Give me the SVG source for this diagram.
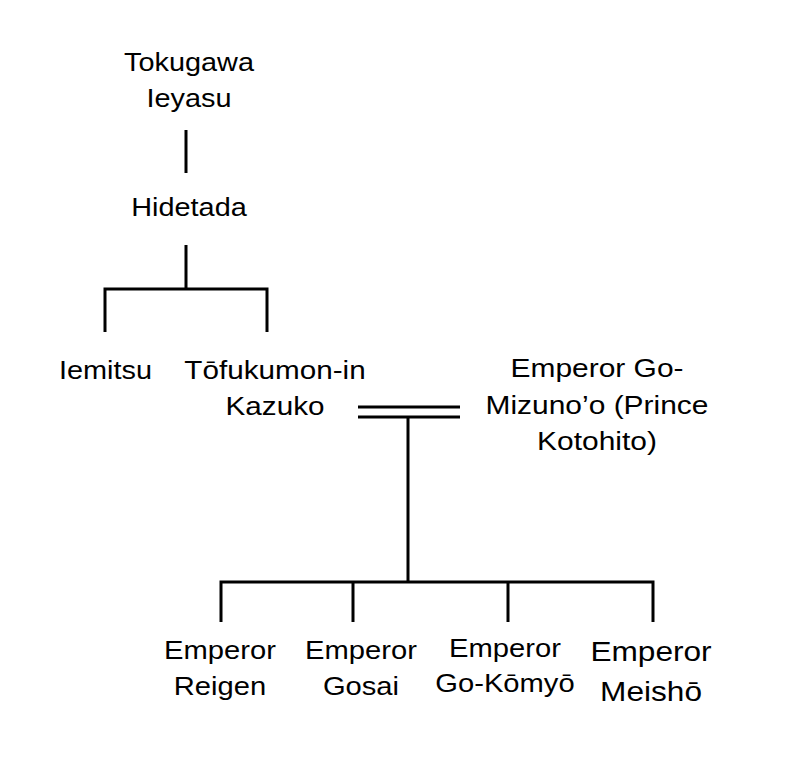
<svg xmlns="http://www.w3.org/2000/svg" width="798" height="784" viewBox="0 0 798 784">
<style>
text{font-family:"Liberation Sans",Arial,sans-serif;font-size:26.5px;fill:#000;text-anchor:middle}
.big{font-size:28px}
.ln{stroke:#000;stroke-width:3;fill:none}
</style>
<rect width="798" height="784" fill="#fff"/>
<g id="connectors">
<path class="ln" d="M186,130V173"/>
<path class="ln" d="M186,245V289M105,332V289H267V332"/>
<path class="ln" d="M358,407H460M358,417H460"/>
<path class="ln" d="M408,417V582M221,622V582H653V622M353,582V622M508,582V622"/>
</g>
<g id="ieyasu" transform="matrix(1.09 0 0 1 -17 0)"><text x="189" y="71">Tokugawa</text><text x="189" y="107">Ieyasu</text></g>
<g id="hidetada" transform="matrix(1.09 0 0 1 -17 0)"><text x="189" y="216">Hidetada</text></g>
<g id="iemitsu" transform="matrix(1.09 0 0 1 -9.5 0)"><text x="105.5" y="379">Iemitsu</text></g>
<g id="kazuko" transform="matrix(1.12 0 0 1 -33 0)"><text x="275" y="379">Tōfukumon-in</text><text x="275" y="415">Kazuko</text></g>
<g id="gomizunoo" transform="matrix(1.13 0 0 1 -77.6 0)"><text x="597" y="377">Emperor Go-</text><text x="597" y="414">Mizuno’o (Prince</text><text x="597" y="450">Kotohito)</text></g>
<g id="reigen" transform="matrix(1.1 0 0 1 -22 0)"><text x="220" y="659">Emperor</text><text x="220" y="695">Reigen</text></g>
<g id="gosai" transform="matrix(1.1 0 0 1 -36.1 0)"><text x="361" y="659">Emperor</text><text x="361" y="695">Gosai</text></g>
<g id="gokomyo" transform="matrix(1.1 0 0 1 -50.5 0)"><text x="505" y="657">Emperor</text><text x="505" y="692">Go-Kōmyō</text></g>
<g id="meisho" transform="matrix(1.13 0 0 1 -84.6 0)"><text class="big" x="651" y="661">Emperor</text><text class="big" x="651" y="701">Meishō</text></g>
</svg>
